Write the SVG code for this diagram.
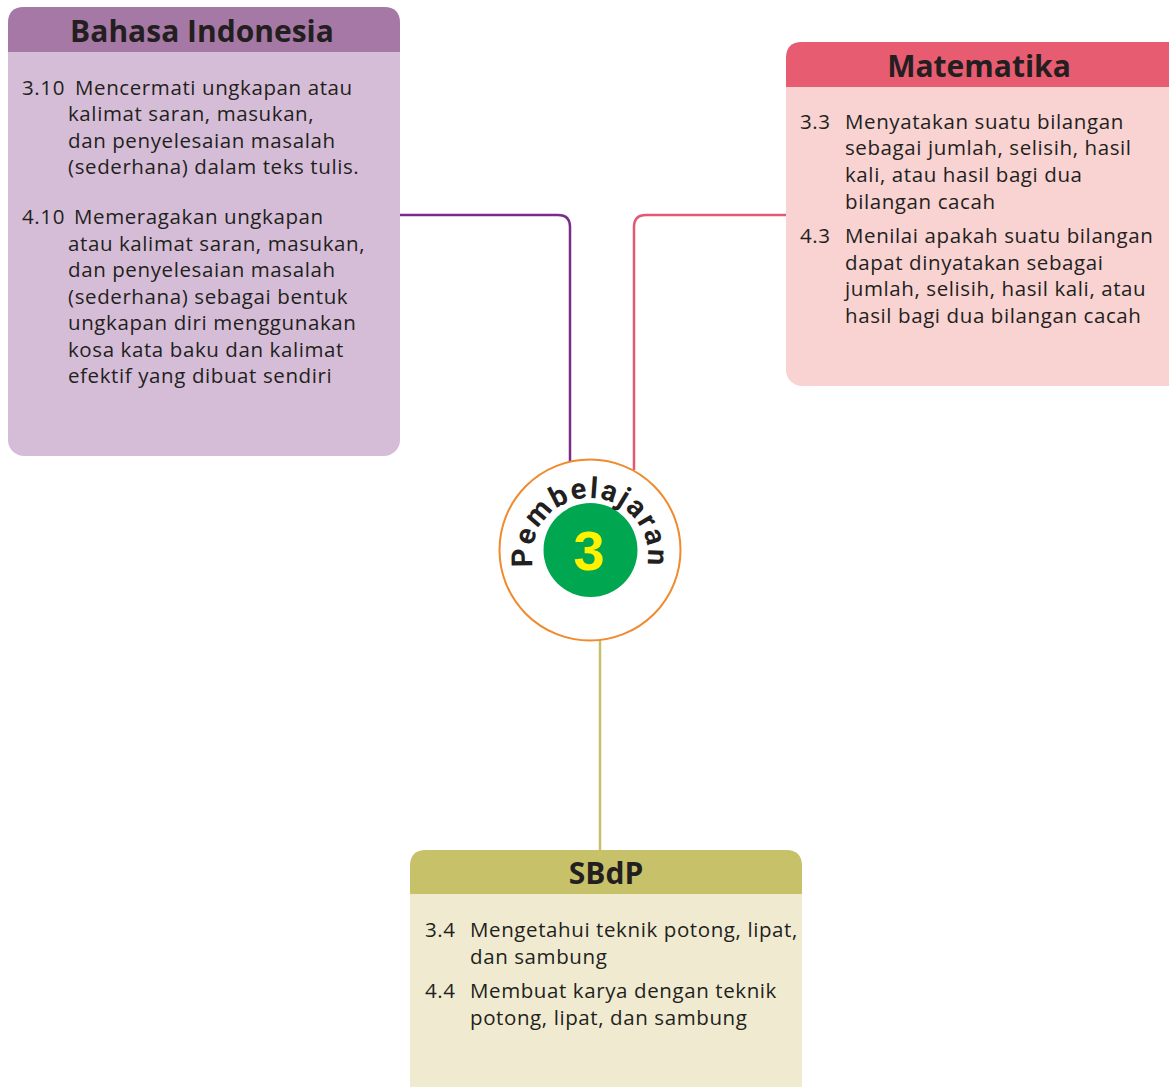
<svg xmlns="http://www.w3.org/2000/svg" width="1169" height="1087" viewBox="0 0 1169 1087">
<style>
.hd{font-family:"Open Sans","DejaVu Sans",sans-serif;font-weight:700;font-size:30px;fill:#231F20;text-anchor:middle}
.tx{font-family:"Open Sans","DejaVu Sans",sans-serif;font-size:20.5px;letter-spacing:0.6px;fill:#231F20}
.conn{fill:none;stroke-width:2.5}
</style>
<defs>
<path id="arc" d="M 535.5 575.8 A 58 58 0 1 1 644.5 575.8"/>
</defs>
<g id="connectors">
<path class="conn" stroke="#7B2C8B" d="M400 215 H558 Q570 215 570 227 V462"/>
<path class="conn" stroke="#E05A75" d="M786 215 H646 Q634 215 634 227 V470"/>
<path class="conn" stroke="#C9BF6A" d="M600 640 V850"/>
</g>
<g id="bahasa">
<rect x="8" y="7" width="392" height="449" rx="16" fill="#D6BDD7"/>
<path d="M8 52 V23 Q8 7 24 7 H384 Q400 7 400 23 V52 Z" fill="#A678A6"/>
<text class="hd" x="202" y="42">Bahasa Indonesia</text>
<text class="tx" x="22" y="95">3.10</text>
<text class="tx" x="75" y="95">Mencermati ungkapan atau</text>
<text class="tx" x="68" y="121">kalimat saran, masukan,</text>
<text class="tx" x="68" y="148">dan penyelesaian masalah</text>
<text class="tx" x="68" y="174">(sederhana) dalam teks tulis.</text>
<text class="tx" x="22" y="224">4.10</text>
<text class="tx" x="74" y="224">Memeragakan ungkapan</text>
<text class="tx" x="68" y="251">atau kalimat saran, masukan,</text>
<text class="tx" x="68" y="277">dan penyelesaian masalah</text>
<text class="tx" x="68" y="304">(sederhana) sebagai bentuk</text>
<text class="tx" x="68" y="330">ungkapan diri menggunakan</text>
<text class="tx" x="68" y="357">kosa kata baku dan kalimat</text>
<text class="tx" x="68" y="383">efektif yang dibuat sendiri</text>
</g>
<g id="matematika">
<rect x="786" y="42" width="400" height="344" rx="16" fill="#F9D2D2"/>
<path d="M786 87 V58 Q786 42 802 42 H1186 V87 Z" fill="#E85C72"/>
<text class="hd" x="979" y="77">Matematika</text>
<text class="tx" x="800" y="129">3.3</text>
<text class="tx" x="845" y="129">Menyatakan suatu bilangan</text>
<text class="tx" x="845" y="155">sebagai jumlah, selisih, hasil</text>
<text class="tx" x="845" y="182">kali, atau hasil bagi dua</text>
<text class="tx" x="845" y="209">bilangan cacah</text>
<text class="tx" x="800" y="243">4.3</text>
<text class="tx" x="845" y="243">Menilai apakah suatu bilangan</text>
<text class="tx" x="845" y="270">dapat dinyatakan sebagai</text>
<text class="tx" x="845" y="296">jumlah, selisih, hasil kali, atau</text>
<text class="tx" x="845" y="323">hasil bagi dua bilangan cacah</text>
</g>
<g id="sbdp">
<rect x="410" y="850" width="392" height="260" rx="16" fill="#F0EBD0"/>
<path d="M410 894 V866 Q410 850 426 850 H786 Q802 850 802 866 V894 Z" fill="#C7C16A"/>
<text class="hd" x="606" y="884">SBdP</text>
<text class="tx" x="425" y="937">3.4</text>
<text class="tx" x="470" y="937">Mengetahui teknik potong, lipat,</text>
<text class="tx" x="470" y="964">dan sambung</text>
<text class="tx" x="425" y="998">4.4</text>
<text class="tx" x="470" y="998">Membuat karya dengan teknik</text>
<text class="tx" x="470" y="1025">potong, lipat, dan sambung</text>
</g>
<g id="pembelajaran">
<circle cx="590" cy="550" r="90.5" fill="#FFFFFF" stroke="#F08A2E" stroke-width="2"/>
<circle cx="590.5" cy="550" r="47" fill="#00A650"/>
<text x="589" y="570" font-family="'Liberation Sans',Arial,sans-serif" font-weight="700" font-size="56" fill="#FFF200" text-anchor="middle">3</text>
<text font-family="Roboto,'DejaVu Sans',sans-serif" font-weight="700" font-size="29" fill="#231F20" letter-spacing="2" text-anchor="middle"><textPath href="#arc" startOffset="50%">Pembelajaran</textPath></text>
</g>
</svg>
